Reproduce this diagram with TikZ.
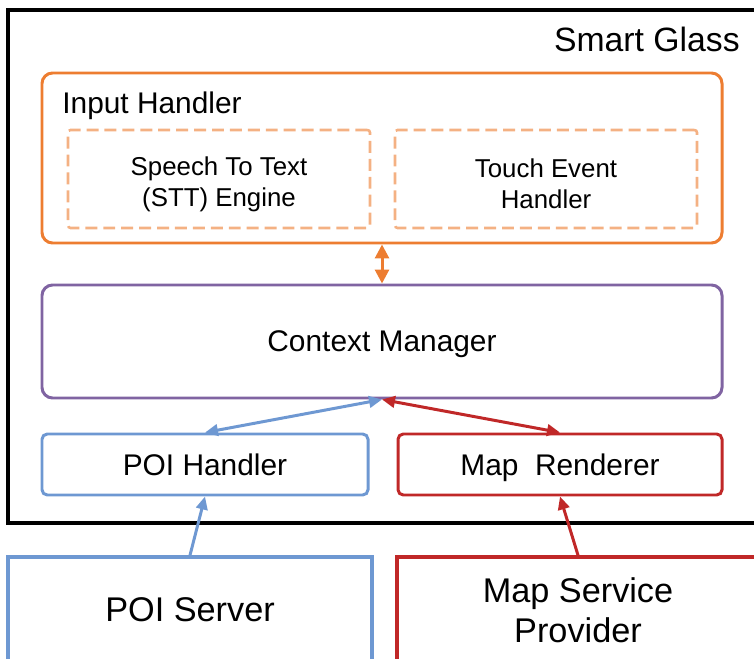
\documentclass[tikz,border=0pt]{standalone}
\usepackage{fontspec}
\setmainfont{Liberation Sans}
\usetikzlibrary{arrows.meta}

\definecolor{ihorange}{RGB}{237,125,49}
\definecolor{ihlight}{RGB}{244,177,131}
\definecolor{cmpurple}{RGB}{128,100,162}
\definecolor{poiblue}{RGB}{110,152,210}
\definecolor{mapred}{RGB}{192,40,40}

\tikzset{
  box/.style={draw, line width=1.7pt, inner sep=0pt, align=center, text depth=0pt,
    font=\fontsize{17}{20.4}\selectfont},
  server/.style={draw, line width=2pt, inner sep=0pt, align=center,
    font=\fontsize{19.5}{22.7}\selectfont},
  subbox/.style={draw=ihlight, line width=1.5pt, dash pattern=on 6.8pt off 3.4pt,
    rounded corners=1.5pt, minimum width=6.04cm, minimum height=1.96cm,
    label={[align=center, yshift=-2.8pt, font=\fontsize{14.7}{17.6}\selectfont]center:#1}},
  link/.style={line width=1.7pt,
    {Triangle[length=2.6mm,width=2.3mm]}-{Triangle[length=2.6mm,width=2.3mm]}},
  uplink/.style={line width=1.7pt, -{Triangle[length=2.6mm,width=2.3mm]}},
}

\begin{document}
\begin{tikzpicture}
\clip (0,0) rectangle (15.08,13.16);
% smart glass frame
\draw[line width=2.1pt] (0.16,2.70) rectangle (15.6,12.96);
\node[anchor=base east, inner sep=0pt, font=\fontsize{19.2}{23}\selectfont] (glass) at (14.80,12.12) {Smart Glass};

% input handler
\node[box, draw=ihorange, rounded corners=6pt, minimum width=13.6cm, minimum height=3.4cm] (ih) at (7.64,10.0) {};
\node[anchor=base west, inner sep=0pt, font=\fontsize{17}{20.4}\selectfont] (ihlabel) at (1.24,10.88) {Input Handler};
\node[subbox={Speech To Text\\(STT) Engine}] (stt) at (4.38,9.58) {};
\node[subbox={Touch Event\\Handler}] (touch) at (10.92,9.58) {};

\node[box, draw=cmpurple, rounded corners=6pt, minimum width=13.6cm, minimum height=2.26cm] (cm) at (7.64,6.33) {Context Manager};
\node[box, draw=poiblue, rounded corners=3pt, minimum width=6.52cm, minimum height=1.22cm] (poih) at (4.10,3.87) {POI Handler};
\node[box, draw=mapred, rounded corners=3pt, minimum width=6.48cm, minimum height=1.22cm] (mr) at (11.20,3.87) {Map\ \ Renderer};

% outside the glass
\node[server, draw=poiblue, minimum width=7.28cm, minimum height=2.12cm] (poi) at (3.80,0.96) {POI Server};
\node[server, draw=mapred, minimum width=7.24cm, minimum height=2.12cm] (msp) at (11.56,0.96) {Map Service\\Provider};

\draw[line width=1.7pt, ihorange, {Triangle[length=2.8mm,width=2.8mm]}-{Triangle[length=2.8mm,width=2.8mm]}] (ih.south) -- (cm.north);
\draw[link, poiblue] (cm.south) -- (poih.north);
\draw[link, mapred] (cm.south) -- (mr.north);
\draw[uplink, poiblue] (poi.north) -- (poih.south);
\draw[uplink, mapred] (msp.north) -- (mr.south);
\end{tikzpicture}
\end{document}
